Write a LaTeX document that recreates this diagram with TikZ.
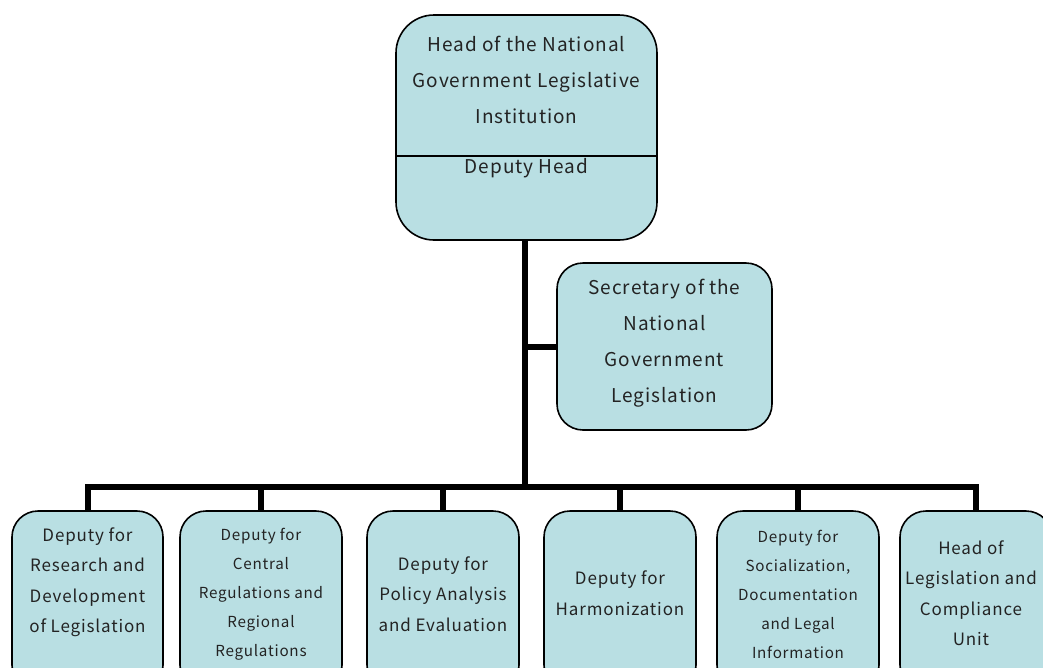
\documentclass[tikz,border=0pt]{standalone}
\usepackage{fontspec}
\setmainfont[LetterSpace=5]{Noto Sans CJK JP}
\definecolor{boxfill}{RGB}{185,223,227}
\definecolor{txt}{RGB}{35,35,35}
\begin{document}
\begin{tikzpicture}[x=1pt,y=-1pt,
  box/.style={draw=black,line width=1.6pt,fill=boxfill,rounded corners=26pt,inner sep=0pt},
  conn/.style={line width=6pt,draw=black},
  lbl/.style={align=center,text=txt,inner sep=0pt},
  big/.style={font=\fontsize{19}{36}\selectfont},
  mid/.style={font=\fontsize{17}{30.5}\selectfont},
  sml/.style={font=\fontsize{15.2}{29}\selectfont}]
\useasboundingbox (0,0) rectangle (1043,667);
% boxes
\node[box,rounded corners=38pt,minimum width=261pt,minimum height=225pt] (head) at (526.5,127.5) {};
\draw[line width=1.6pt] (head.west |- 0,156) coordinate (dl) -- (head.east |- 0,156) coordinate (dr);
\node[box,minimum width=215pt,minimum height=167pt] (sec) at (664.5,346.5) {};
\node[box,minimum width=151pt,minimum height=180pt] (b1) at (87.5,601) {};
\node[box,minimum width=162pt,minimum height=180pt] (b2) at (261,601) {};
\node[box,minimum width=152pt,minimum height=180pt] (b3) at (443,601) {};
\node[box,minimum width=152pt,minimum height=180pt] (b4) at (620,601) {};
\node[box,minimum width=162pt,minimum height=180pt] (b5) at (798,601) {};
\node[box,minimum width=152pt,minimum height=180pt] (b6) at (976,601) {};
% connectors
\coordinate (bus) at (525,487);
\draw[conn] (head.south -| bus) -- (bus);
\draw[conn] (bus |- sec.west) -- (sec.west);
\draw[conn,line cap=rect] (b1.north |- bus) -- (b6.north |- bus);
\foreach \b in {b1,b2,b3,b4,b5,b6} \draw[conn] (\b.north |- bus) -- (\b.north);
% texts
\node[lbl,big] (thead) at (526.5,80) {Head of the National\\Government Legislative\\Institution};
\node[lbl,big] (tdep) at (526.5,168) {Deputy Head};
\node[lbl,big] (tsec) at (664.5,343) {Secretary of the\\National\\Government\\Legislation};
\node[lbl,mid] (t1) at (87.5,582) {Deputy for\\Research and\\Development\\of Legislation};
\node[lbl,sml] (t2) at (261,594) {Deputy for\\Central\\Regulations and\\Regional\\Regulations};
\node[lbl,mid] (t3) at (443,594) {Deputy for\\Policy Analysis\\and Evaluation};
\node[lbl,mid] (t4) at (620,593) {Deputy for\\Harmonization};
\node[lbl,sml] (t5) at (798,594) {Deputy for\\Socialization,\\Documentation\\and Legal\\Information};
\node[lbl,mid] (t6) at (971,593) {Head of\\Legislation and\\Compliance\\Unit};
\end{tikzpicture}
\end{document}
